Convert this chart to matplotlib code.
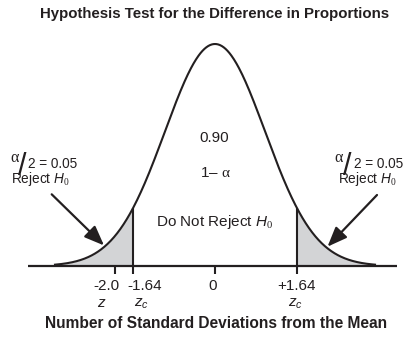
import numpy as np
import matplotlib
matplotlib.use('Agg')
import matplotlib.pyplot as plt

plt.rcParams['font.family'] = ['Liberation Sans', 'DejaVu Sans']
plt.rcParams['mathtext.fontset'] = 'custom'
plt.rcParams['mathtext.rm'] = 'Liberation Serif'
plt.rcParams['mathtext.it'] = 'Liberation Sans:italic'
plt.rcParams['mathtext.bf'] = 'Liberation Sans:bold'

# two-tailed test, alpha = 0.10
alpha = 0.10
z_crit = 1.64
z_stat = -2.0
tick_values = [-2.0, -1.64, 0.0, 1.64]
tick_labels = ['-2.0', '-1.64', '0', '+1.64']
z_names = ['$\\mathit{z}$', '$\\mathit{z_c}$', '', '$\\mathit{z_c}$']

W, H = 407, 343
ink = '#231f20'
shade = '#d3d4d6'
fs = 11
fs_side = 9.8


def pdf(z):
    return np.exp(-z ** 2 / 2) / np.sqrt(2 * np.pi)


def px(x, y):
    # pixel position -> figure fraction
    return x / W, 1 - y / H


fig = plt.figure(figsize=(W / 100, H / 100), dpi=100)
ax = fig.add_axes([0, 0, 1, 1])
ax.axis('off')
ax.set_xlim(-4.30, 3.84)
ax.set_ylim(-0.1384, 0.478)

z = np.linspace(-3.2, 3.2, 500)
zl = np.linspace(-3.2, -z_crit, 200)
zr = np.linspace(z_crit, 3.2, 200)
ax.fill_between(zl, pdf(zl), color=shade, lw=0)
ax.fill_between(zr, pdf(zr), color=shade, lw=0)

ax.plot([-3.74, 3.64], [0, 0], color=ink, lw=1.6, solid_capstyle='butt')
ax.plot(z, pdf(z), color=ink, lw=1.5)

tick_low = -8 / 556.5
ax.vlines([-z_crit, z_crit], tick_low, pdf(z_crit), color=ink, lw=1.5)
ax.vlines([z_stat, 0], tick_low, 0, color=ink, lw=1.5)

# tick labels and z names below the axis
label_dx = [-9, 12, -2, -1]
name_dx = [-13, 8, 0, -2]
for v, lab, nm, dx, ndx in zip(tick_values, tick_labels, z_names, label_dx, name_dx):
    ax.annotate(lab, (v, 0), xytext=(dx * 0.72, -24 * 0.72), textcoords='offset points',
                ha='center', va='baseline', fontsize=fs, color=ink)
    if nm:
        ax.annotate(nm, (v, 0), xytext=(ndx * 0.72, -41 * 0.72), textcoords='offset points',
                    ha='center', va='baseline', fontsize=fs, color=ink)

# arrows pointing at the rejection regions
for tail, tip in [((-3.266, 0.1288), -2.22), ((3.24, 0.1276), 2.25)]:
    ax.annotate('', xy=(tip, pdf(tip) + 0.003), xytext=tail,
                arrowprops=dict(arrowstyle='-|>,head_length=0.8,head_width=0.32',
                                color=ink, lw=1.6, mutation_scale=15,
                                shrinkA=0, shrinkB=0))

# center labels
fig.text(*px(214, 141.7), f'{1 - alpha:.2f}', ha='center', va='baseline', fontsize=fs, color=ink)
fig.text(*px(215, 177.3), '1\u2013 $\\mathrm{\\alpha}$', ha='center', va='baseline', fontsize=fs, color=ink)
fig.text(*px(215, 226), 'Do Not Reject $\\mathit{H_0}$', ha='center', va='baseline', fontsize=fs, color=ink)

# alpha/2 labels on both tails
for a_x, s_x, t_x, r_x in [(9.5, 18, 28, 40), (334.5, 343, 353.5, 367)]:
    fig.text(*px(a_x, 162.5), '$\\mathrm{\\alpha}$', ha='left', va='baseline', fontsize=11.5, color=ink)
    fig.text(*px(s_x, 175), '/', ha='left', va='baseline', fontsize=22, color=ink)
    fig.text(*px(t_x, 168.5), f'2 = {alpha / 2:.2f}', ha='left', va='baseline', fontsize=fs_side, color=ink)
    fig.text(*px(r_x, 182.5), 'Reject $\\mathit{H_0}$', ha='center', va='baseline', fontsize=fs_side, color=ink)

fig.text(*px(215, 18.3), 'Hypothesis Test for the Difference in Proportions',
         ha='center', va='baseline', fontsize=10.8, fontweight='bold', color=ink)
fig.text(*px(216, 328), 'Number of Standard Deviations from the Mean',
         ha='center', va='baseline', fontsize=11.2, fontweight='bold', color=ink)

fig.savefig('out.png', dpi=100)
